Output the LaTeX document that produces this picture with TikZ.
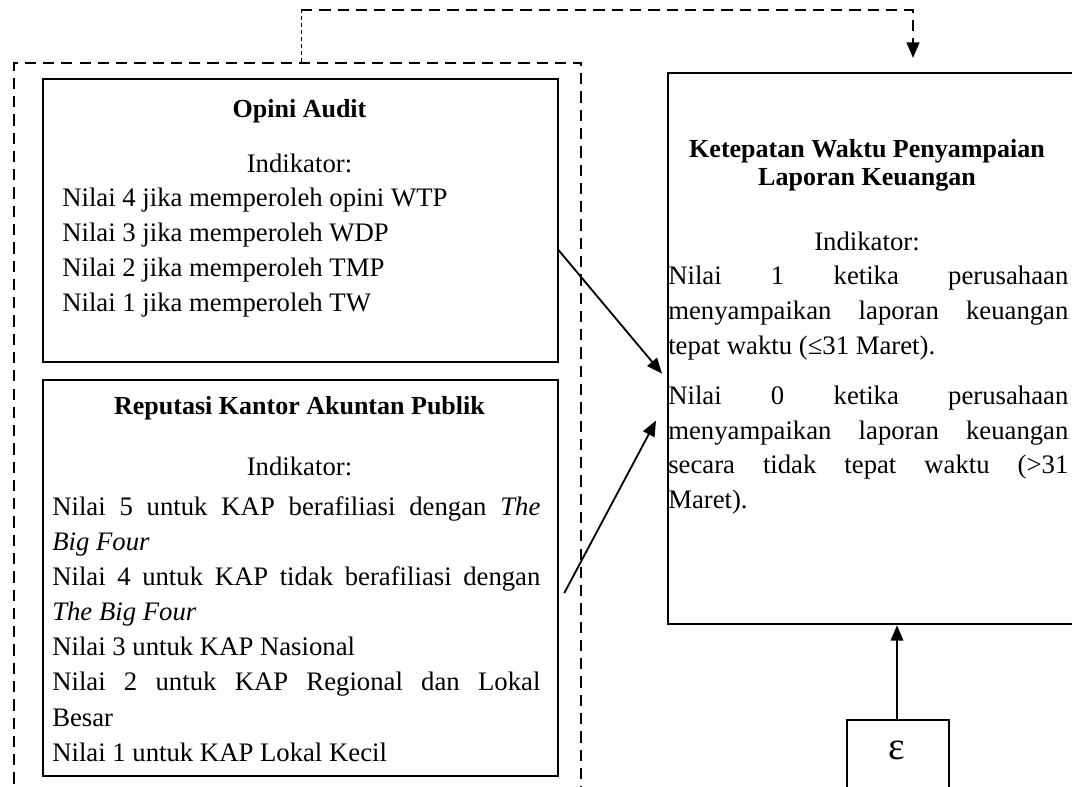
\documentclass[tikz,border=0pt]{standalone}
\usepackage{fontspec}
\setmainfont{Liberation Serif}
\usetikzlibrary{arrows.meta,positioning,calc}
\hyphenpenalty=10000
\exhyphenpenalty=10000
\tolerance=9999
\emergencystretch=3em

\begin{document}
\begin{tikzpicture}[x=0.025cm,y=-0.025cm,
  box/.style={draw,line width=1.5pt,inner sep=0pt,anchor=north west},
  outer/.style={draw,line width=1.5pt,dash pattern=on 8pt off 5pt,inner sep=0pt,anchor=north west},
  txt/.style={inner sep=0pt,font=\fontsize{19}{24.7}\selectfont},
  head/.style={inner sep=0pt,align=center,font=\fontsize{18.5}{20}\selectfont\bfseries},
  link/.style={-{Triangle[length=11pt,width=9pt]},line width=1.3pt}]
  \useasboundingbox (0,0) rectangle (1072,787);
  \clip (0,0) rectangle (1072,787);
  % independent variables
  \node[outer,minimum width=14.175cm,minimum height=18.8cm] (indep) at (13,62) {};
  \node[box,minimum width=12.875cm,minimum height=7.075cm] (opini) at (42,78) {};
  \node[box,minimum width=12.875cm,minimum height=9.9cm] (kap) at (42,379) {};
  \node[head] (opiniT) at (299.5,111) {Opini Audit};
  \node[txt] (opiniI) at (299.5,163) {Indikator:};
  \node[txt,align=left,anchor=north west] (opiniL) at (62,188) {%
    Nilai 4 jika memperoleh opini WTP\\
    Nilai 3 jika memperoleh WDP\\
    Nilai 2 jika memperoleh TMP\\
    Nilai 1 jika memperoleh TW};
  \node[head] (kapT) at (299.5,408) {Reputasi Kantor Akuntan Publik};
  \node[txt] (kapI) at (299.5,466) {Indikator:};
  \node[txt,align=justify,text width=12.2cm,anchor=north west,
    font=\fontsize{19}{25}\selectfont] (kapL) at (52,496) {%
    Nilai 5 untuk KAP berafiliasi dengan \textit{The}\linebreak \textit{Big Four}\\
    Nilai 4 untuk KAP tidak berafiliasi dengan\linebreak \textit{The Big Four}\\
    Nilai 3 untuk KAP Nasional\\
    Nilai 2 untuk KAP Regional dan Lokal\linebreak Besar\\
    Nilai 1 untuk KAP Lokal Kecil};
  % dependent variable
  \node[box,minimum width=11cm,minimum height=13.775cm] (ketepatan) at (667,72) {};
  \node[head] (ketT) at (867,165) {Ketepatan Waktu Penyampaian\\Laporan Keuangan};
  \node[txt] (ketI) at (867,241) {Indikator:};
  \node[txt,align=justify,text width=10cm,anchor=north west] (ketL) at (668,266) {%
    Nilai 1 ketika perusahaan\linebreak menyampaikan laporan keuangan\linebreak tepat waktu (≤31 Maret).\\[11pt]
    Nilai 0 ketika perusahaan\linebreak menyampaikan laporan keuangan\linebreak secara tidak tepat waktu (>31\linebreak Maret).};
  % error term
  \node[box,minimum width=2.55cm,minimum height=2.5cm] (eps) at (846,719) {};
  \node[inner sep=0pt,font=\fontsize{28}{30}\selectfont] (epsT) at (897,750) {ε};
  % connectors
  \coordinate (up) at (301,10);
  \coordinate (over) at (913,10);
  \draw[line width=0.6pt,dash pattern=on 3pt off 2pt] (indep.north -| up) -- (up);
  \draw[line width=1.5pt,dash pattern=on 8pt off 5pt,-{Triangle[length=11pt,width=9pt]},shorten >=10pt]
    (up) -- (over) -- (ketepatan.north -| over);
  \draw[link] ($(opini.east)+(-2,28)$) -- ($(ketepatan.west)+(-5,25)$);
  \draw[link] ($(kap.east)+(5,15)$) -- ($(ketepatan.west)+(-11,72)$);
  \draw[link] (eps.north -| epsT) -- (ketepatan.south -| epsT);
\end{tikzpicture}
\end{document}
